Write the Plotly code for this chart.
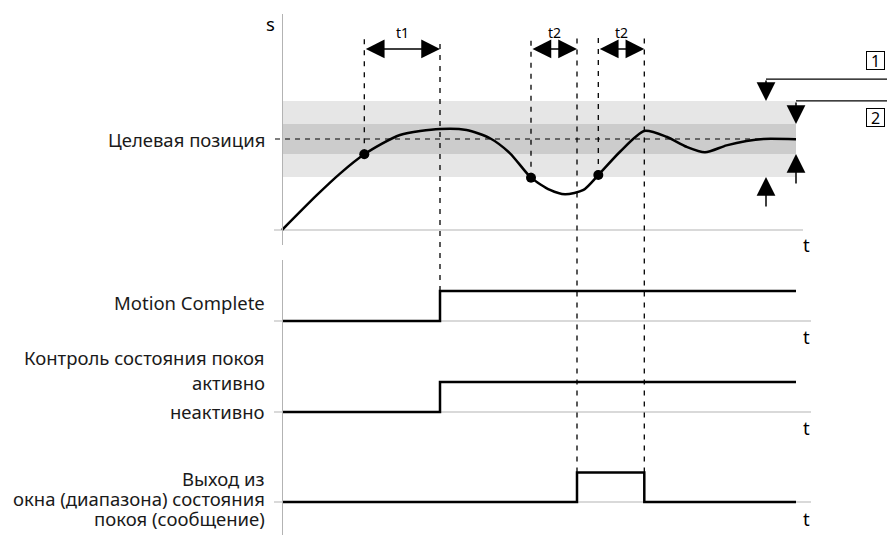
import plotly.graph_objects as go

# ---------------- data ----------------
# position curve s(t) (target position = 1.0)
curve_t = [0.0, 0.69, 1.16, 1.646, 2.36, 3.16, 3.69, 4.16, 4.56, 4.98, 5.36, 5.66,
           6.03, 6.326, 6.76, 7.246, 7.69, 8.09, 8.46, 8.89, 9.29, 9.63, 10.28]
curve_s = [0.0, 0.38, 0.62, 0.832, 1.044, 1.11, 1.099, 1.008, 0.843, 0.575, 0.44, 0.392,
           0.44, 0.604, 0.86, 1.088, 1.025, 0.915, 0.854, 0.93, 0.978, 1.0, 0.997]
target = 1.0
outer_window = 0.418   # light band half width
inner_window = 0.165   # dark band half width
t_end = 10.28

# event times
t_enter = 1.646     # enters window (dot 1)
t_mc = 3.16         # motion complete
t_leave = 4.98      # leaves window (dot 2)
t_exit = 5.9        # exit message on
t_back = 6.326      # back in window (dot 3)
t_exit_off = 7.246  # exit message off
dots_t = [t_enter, t_leave, t_back]
dots_s = [0.832, 0.575, 0.604]

# digital signals (step, hv)
mc_t = [0.0, t_mc, t_end]
mc_v = [0, 1, 1]
ctrl_t = [0.0, t_mc, t_end]
ctrl_v = [0, 1, 1]
exit_t = [0.0, t_exit, t_exit_off, t_end]
exit_v = [0, 1, 0, 0]

window_labels = ["1", "2"]
interval_labels = ["t1", "t2", "t2"]

# ---------------- layout helpers ----------------
W, H = 887, 535
X0_PX, PX_PER_T = 282, 50.0
FONT = "Noto Sans"
FS = 18.5
GRAY = "#b3b3b3"

def dom(top_px, bot_px):
    return [1 - bot_px / H, 1 - top_px / H]

def rng(zero_px, unit_px, top_px, bot_px):
    return [(zero_px - bot_px) / unit_px, (zero_px - top_px) / unit_px]

top_dom, top_rng = dom(14, 245), rng(230, 91, 14, 245)
low_dom = dom(260, 535)
mc_rng = rng(321, 30, 260, 535)
ctrl_rng = rng(412, 30, 260, 535)
exit_rng = rng(502, 29.5, 260, 535)

def to_paper(d, r, v):
    return d[0] + (v - r[0]) / (r[1] - r[0]) * (d[1] - d[0])

x_left_tick = -8 / PX_PER_T
x_lab = 267 / W

fig = go.Figure()

shapes = [
    dict(type="rect", xref="x", yref="y", x0=0, x1=t_end,
         y0=target - outer_window, y1=target + outer_window,
         fillcolor="#e6e6e6", line_width=0, layer="below"),
    dict(type="rect", xref="x", yref="y", x0=0, x1=t_end,
         y0=target - inner_window, y1=target + inner_window,
         fillcolor="#cccccc", line_width=0, layer="below"),
    dict(type="line", xref="x", yref="y", x0=-7 / PX_PER_T, x1=t_end, y0=target, y1=target,
         line=dict(color="black", width=1.2, dash="5px,5px")),
    dict(type="line", xref="x", yref="y", x0=x_left_tick, x1=10.42, y0=0, y1=0,
         line=dict(color=GRAY, width=1.2), layer="below"),
    dict(type="line", xref="x", yref="y2", x0=x_left_tick, x1=10.58, y0=0, y1=0,
         line=dict(color=GRAY, width=1.2), layer="below"),
    dict(type="line", xref="x", yref="y3", x0=x_left_tick, x1=10.58, y0=0, y1=0,
         line=dict(color=GRAY, width=1.2), layer="below"),
    dict(type="line", xref="x", yref="y4", x0=x_left_tick, x1=10.58, y0=0, y1=0,
         line=dict(color=GRAY, width=1.2), layer="below"),
]

dash_top = to_paper(top_dom, top_rng, 2.11)
vlines = [
    (t_enter, to_paper(top_dom, top_rng, dots_s[0])),
    (t_mc, to_paper(low_dom, mc_rng, 1)),
    (t_leave, to_paper(top_dom, top_rng, dots_s[1])),
    (t_exit, to_paper(low_dom, exit_rng, 1)),
    (t_back, to_paper(top_dom, top_rng, dots_s[2])),
    (t_exit_off, to_paper(low_dom, exit_rng, 1)),
]
for tx, yb in vlines:
    shapes.append(dict(type="line", xref="x", yref="paper", x0=tx, x1=tx, y0=yb, y1=dash_top,
                       line=dict(color="black", width=1.3, dash="5px,6px")))

shapes.append(dict(type="line", xref="x", yref="y", x0=9.68, x1=12.2, y0=1.659, y1=1.659,
                   line=dict(color="black", width=1.2)))
shapes.append(dict(type="line", xref="x", yref="y", x0=t_end, x1=12.2,
                   y0=target + outer_window, y1=target + outer_window,
                   line=dict(color="black", width=1.2)))

fig.add_trace(go.Scatter(x=curve_t, y=curve_s, mode="lines",
                         line=dict(color="black", width=2.5, shape="spline", smoothing=0.7),
                         xaxis="x", yaxis="y", hoverinfo="skip"))
fig.add_trace(go.Scatter(x=dots_t, y=dots_s, mode="markers", marker=dict(color="black", size=10),
                         xaxis="x", yaxis="y", hoverinfo="skip"))
fig.add_trace(go.Scatter(x=mc_t, y=mc_v, mode="lines", line=dict(color="black", width=2.5, shape="hv"),
                         xaxis="x", yaxis="y2", hoverinfo="skip"))
fig.add_trace(go.Scatter(x=ctrl_t, y=ctrl_v, mode="lines", line=dict(color="black", width=2.5, shape="hv"),
                         xaxis="x", yaxis="y3", hoverinfo="skip"))
fig.add_trace(go.Scatter(x=exit_t, y=exit_v, mode="lines", line=dict(color="black", width=2.5, shape="hv"),
                         xaxis="x", yaxis="y4", hoverinfo="skip"))

ann = []
arrow_y = 1.99
for (a, b), lab in zip([(t_enter, t_mc), (t_leave, t_exit), (t_back, t_exit_off)], interval_labels):
    ann.append(dict(x=b, y=arrow_y, ax=a, ay=arrow_y, xref="x", yref="y", axref="x", ayref="y",
                    text="", showarrow=True, arrowhead=2, startarrowhead=2, arrowside="end+start",
                    arrowsize=2.5, startarrowsize=2.5, arrowwidth=1.5, arrowcolor="black",
                    standoff=0, startstandoff=0))
    ann.append(dict(x=(a + b) / 2, y=2.17, xref="x", yref="y", text=lab, showarrow=False,
                    font=dict(family=FONT, size=14, color="black")))

for x, tip, tail in [(9.68, target + outer_window, 1.659), (9.68, target - outer_window, 0.242),
                     (t_end, target + inner_window, target + outer_window), (t_end, target - inner_window, 0.495)]:
    ann.append(dict(x=x, y=tip, ax=x, ay=tail, xref="x", yref="y", axref="x", ayref="y",
                    text="", showarrow=True, arrowhead=2, arrowsize=2.5, arrowwidth=1.5,
                    arrowcolor="black", standoff=0))

for lab, yv in zip(window_labels, [1.868, 1.231]):
    ann.append(dict(x=11.86, y=yv, xref="x", yref="y", text=lab, showarrow=False,
                    width=17, height=17, align="center", valign="middle",
                    bordercolor="black", borderwidth=1, borderpad=0,
                    font=dict(family=FONT, size=16, color="black")))

ann.append(dict(x=-0.24, y=2.27, xref="x", yref="y", text="s", showarrow=False,
                font=dict(family=FONT, size=FS, color="black")))
for ax_name, yv in [("y", -0.16), ("y2", -0.53), ("y3", -0.53), ("y4", -0.56)]:
    ann.append(dict(x=10.49, y=yv, xref="x", yref=ax_name, text="t", showarrow=False,
                    font=dict(family=FONT, size=FS, color="black")))

left_labels = [
    ("y", target, "Целевая позиция"),
    ("y2", 0.63, "Motion Complete"),
    ("y3", 1.83, "Контроль состояния покоя"),
    ("y3", 0.97, "активно"),
    ("y3", 0.03, "неактивно"),
    ("y4", 0.8, "Выход из"),
    ("y4", 0.13, "окна (диапазона) состояния"),
    ("y4", -0.55, "покоя (сообщение)"),
]
for axn, yv, txt in left_labels:
    ann.append(dict(x=x_lab, y=yv, xref="paper", yref=axn, text=txt, showarrow=False,
                    xanchor="right", font=dict(family=FONT, size=FS, color="#1a1a1a")))

fig.update_layout(
    width=W, height=H, margin=dict(l=0, r=0, t=0, b=0),
    paper_bgcolor="white", plot_bgcolor="white", showlegend=False,
    shapes=shapes, annotations=ann,
    xaxis=dict(domain=[0, 1], range=[-X0_PX / PX_PER_T, (W - X0_PX) / PX_PER_T], visible=False, anchor="y"),
    yaxis=dict(domain=top_dom, range=top_rng, anchor="free", position=X0_PX / W,
               showline=True, linecolor=GRAY, linewidth=1.2, showgrid=False, zeroline=False,
               showticklabels=False, ticks=""),
    yaxis2=dict(domain=low_dom, range=mc_rng, anchor="free", position=X0_PX / W,
                showline=True, linecolor=GRAY, linewidth=1.2, showgrid=False, zeroline=False,
                showticklabels=False, ticks=""),
    yaxis3=dict(range=ctrl_rng, overlaying="y2", anchor="free", position=X0_PX / W, visible=False),
    yaxis4=dict(range=exit_rng, overlaying="y2", anchor="free", position=X0_PX / W, visible=False),
)

fig.write_html("out.html", config={"displayModeBar": False},
               post_script="document.body.style.margin='0';document.body.style.overflow='hidden';")
